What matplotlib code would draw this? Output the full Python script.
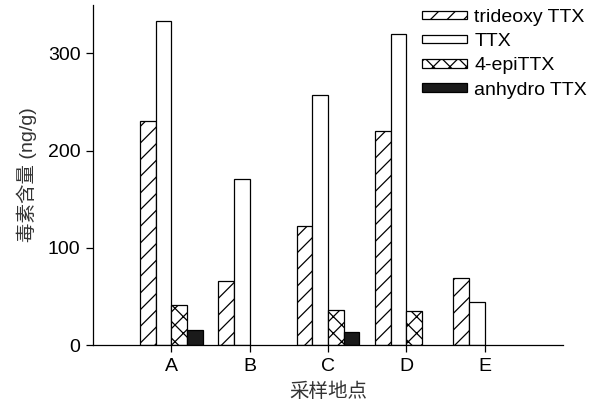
import matplotlib
matplotlib.use("Agg")
from matplotlib import pyplot as plt
import numpy as np

plt.rcParams['font.family'] = ['Liberation Sans', 'Noto Sans CJK SC', 'DejaVu Sans']
plt.rcParams['hatch.linewidth'] = 0.9

sites = ["A", "B", "C", "D", "E"]
series = ["trideoxy TTX", "TTX", "4-epiTTX", "anhydro TTX"]
trideoxy = [231, 66, 123, 220, 69]
ttx = [333, 171, 257, 320, 44]
epi = [41, 0, 36, 35, 0]
anhydro = [16, 0, 13, 0, 0]

values = [trideoxy, ttx, epi, anhydro]
hatches = ["//", "", "xx", ""]
faces = ["white", "white", "white", "#1a1a1a"]

fig = plt.figure(figsize=(6, 4.05), dpi=100)
ax = fig.add_axes([0.155, 0.148, 0.783, 0.84])

x = np.arange(len(sites))
w = 0.2
for i, (name, vals) in enumerate(zip(series, values)):
    vals = np.array(vals, dtype=float)
    m = vals > 0
    ax.bar(x[m] + (i - 2) * w, vals[m], width=w, align="edge",
           color=faces[i], edgecolor="black", linewidth=0.9,
           hatch=hatches[i], label=name)

ax.set_xlim(-1, 5)
ax.set_ylim(0, 350)
ax.set_xticks(x)
ax.set_xticklabels(sites)
ax.set_yticks([0, 100, 200, 300])
ax.tick_params(labelsize=14, length=5, width=0.9, colors="black", pad=4)
for s in ["top", "right"]:
    ax.spines[s].set_visible(False)
for s in ["left", "bottom"]:
    ax.spines[s].set_linewidth(0.9)

ax.set_xlabel("采样地点", fontsize=14, color="#333333", labelpad=6)
ax.set_ylabel("毒素含量 (ng/g)", fontsize=14, color="#333333", labelpad=8)

ax.legend(loc="upper right", bbox_to_anchor=(1.081, 1.028), frameon=False,
          fontsize=14, handlelength=2.3, handleheight=0.31,
          labelspacing=0.37, handletextpad=0.4, borderpad=0.2)

fig.savefig("out.png", dpi=100)
